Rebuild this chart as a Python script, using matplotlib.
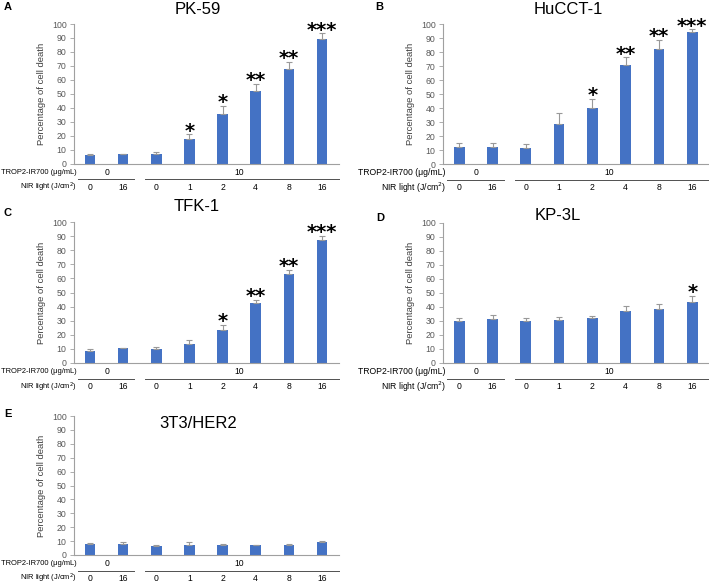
import numpy as np
import matplotlib
matplotlib.use('Agg')
import matplotlib.pyplot as plt

plt.rcParams['font.family'] = ['Liberation Sans', 'DejaVu Sans']

# x categories (NIR light, J/cm2) and TROP2-IR700 groups
nir_labels = ['0', '16', '0', '1', '2', '4', '8', '16']
trop2_groups = ['0', '10']

# PK-59
pk59 = [6.0, 6.5, 7.1, 17.8, 35.2, 51.8, 67.7, 89.0]
pk59_err = [0.8, 0.3, 1.0, 3.0, 6.0, 5.4, 5.0, 4.2]
pk59_sig = ['', '', '', '*', '*', '**', '**', '***']

# HuCCT-1
hucct1 = [12.3, 12.3, 11.4, 28.4, 40.0, 70.9, 82.2, 94.5]
hucct1_err = [3.0, 2.9, 2.7, 8.3, 6.6, 5.4, 6.4, 1.7]
hucct1_sig = ['', '', '', '', '*', '**', '**', '***']

# TFK-1
tfk1 = [8.8, 10.3, 9.7, 13.8, 23.5, 42.3, 63.0, 87.5]
tfk1_err = [0.8, 0.6, 1.6, 2.5, 3.8, 2.5, 3.0, 2.5]
tfk1_sig = ['', '', '', '', '*', '**', '**', '***']

# KP-3L
kp3l = [30.3, 31.2, 30.0, 31.0, 31.8, 37.0, 38.5, 43.5]
kp3l_err = [1.5, 2.8, 1.8, 2.0, 1.5, 3.8, 3.8, 4.5]
kp3l_sig = ['', '', '', '', '', '', '', '*']

# 3T3/HER2
her2 = [7.7, 7.8, 6.8, 7.3, 7.2, 7.0, 7.0, 9.0]
her2_err = [0.8, 1.8, 0.4, 2.0, 0.6, 0.3, 0.7, 1.0]
her2_sig = ['', '', '', '', '', '', '', '']

W, H = 709, 584
fig = plt.figure(figsize=(W / 100, H / 100), dpi=100)

bar_color = '#4472C4'
grey = '#595959'


def px_axes(left, top, right, bottom):
    return fig.add_axes([left / W, 1 - bottom / H, (right - left) / W, (bottom - top) / H])


def panel(box, vals, errs, sig, title, title_xy, letter, letter_xy, row_fs=6.2):
    ax = px_axes(*box)
    x = np.arange(len(vals))
    ax.bar(x, vals, width=0.32, color=bar_color, zorder=2)
    ax.errorbar(x, vals, yerr=[np.zeros(len(vals)), errs], fmt='none',
                ecolor='#999999', elinewidth=0.8, capsize=2, capthick=0.8, zorder=3)
    for xi, v, e, s in zip(x, vals, errs, sig):
        if s:
            ax.text(xi, v + e - 1.7, s, ha='center', va='baseline', fontsize=14,
                    family='DejaVu Sans', fontweight='bold', clip_on=False)
    ax.set_xlim(-0.5, 7.5)
    ax.set_ylim(0, 100)
    ax.set_yticks(range(0, 101, 10))
    ax.set_xticks([])
    for sp in ['top', 'right']:
        ax.spines[sp].set_visible(False)
    for sp in ['left', 'bottom']:
        ax.spines[sp].set_color('#a0a0a0')
        ax.spines[sp].set_linewidth(0.8)
    ax.tick_params(axis='y', direction='out', length=3, width=0.6, color='#a0a0a0',
                   labelsize=6.3, labelcolor=grey, pad=2)
    ax.set_ylabel('Percentage of cell death', fontsize=6.8, color='#404040', labelpad=4)

    # treatment table under the axis
    ax.text(-0.4, -6.3, 'TROP2-IR700 (μg/mL)', ha='right', va='center', fontsize=row_fs, clip_on=False)
    ax.text(-0.4, -17, 'NIR light (J/cm$^2$)', ha='right', va='center', fontsize=row_fs, clip_on=False)
    ax.text(0.5, -6.3, trop2_groups[0], ha='center', va='center', fontsize=6.2, clip_on=False)
    ax.text(4.5, -6.3, trop2_groups[1], ha='center', va='center', fontsize=6.2, clip_on=False)
    ax.plot([-0.36, 1.33], [-11.3, -11.3], color='#505050', lw=0.7, clip_on=False)
    ax.plot([1.66, 7.5], [-11.3, -11.3], color='#505050', lw=0.7, clip_on=False)
    for xi, lab in zip(x, nir_labels):
        ax.text(xi, -17, lab, ha='center', va='center', fontsize=6.2, clip_on=False)

    fig.text(title_xy[0] / W, 1 - title_xy[1] / H, title, ha='center', va='center', fontsize=12)
    fig.text(letter_xy[0] / W, 1 - letter_xy[1] / H, letter, ha='center', va='center',
             fontsize=8, fontweight='bold')
    return ax


panel((73.5, 24, 338.5, 163.5), pk59, pk59_err, pk59_sig, 'PK-59', (198, 9), 'A', (8, 7.5), 5.4)
panel((442.6, 24, 708.9, 164), hucct1, hucct1_err, hucct1_sig, 'HuCCT-1', (568, 9), 'B', (379, 7.5))
panel((73.5, 222, 338.5, 363), tfk1, tfk1_err, tfk1_sig, 'TFK-1', (197, 207), 'C', (8, 213), 5.4)
panel((442.6, 223, 708.9, 363), kp3l, kp3l_err, kp3l_sig, 'KP-3L', (558, 215), 'D', (380, 218))
panel((73.5, 416, 338.5, 555), her2, her2_err, her2_sig, '3T3/HER2', (198, 423), 'E', (8, 414), 5.4)

fig.savefig('out.png', dpi=100)
